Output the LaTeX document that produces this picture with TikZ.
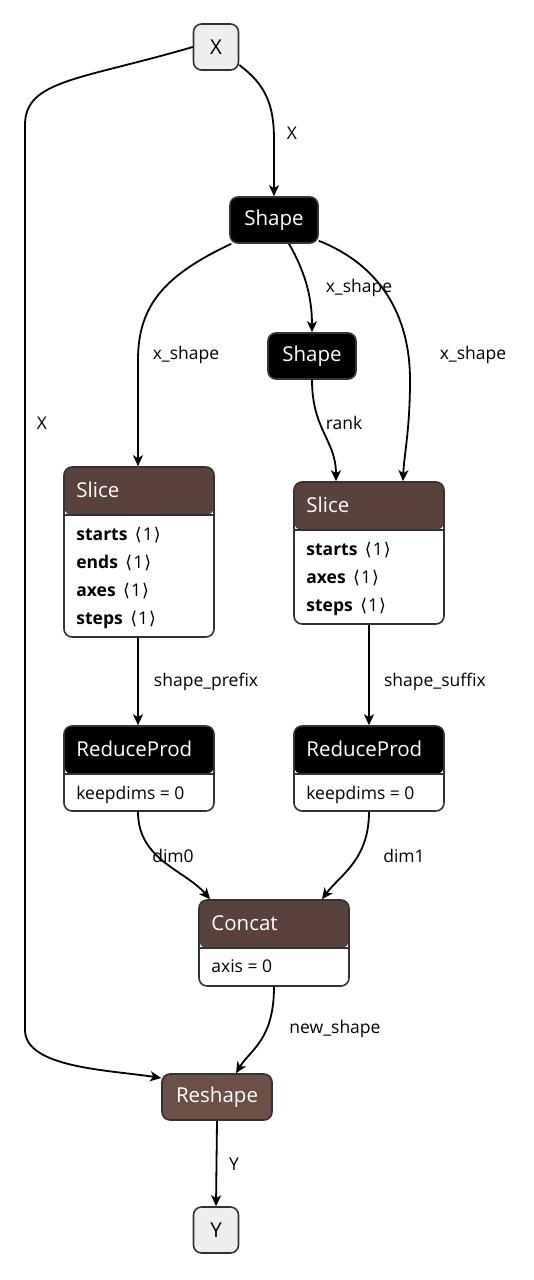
\documentclass[tikz,border=0pt]{standalone}
\usepackage{fontspec}
\setmainfont{Open Sans}
\newfontfamily\bracketfont{DejaVu Sans}
\usetikzlibrary{arrows.meta, calc}
\definecolor{NetronTensor}{HTML}{59423B}
\definecolor{NetronShape}{HTML}{6C4F47}
\definecolor{NetronInput}{HTML}{EEEEEE}
\definecolor{NetronStroke}{HTML}{333333}
\newcommand{\nodetitlefont}{\fontsize{20.5}{24}\selectfont}
\newcommand{\edgelabelfont}{\fontsize{17.5}{20}\selectfont}
\newcommand{\attrfont}{\fontsize{17.5}{20}\selectfont}
\newcommand{\dimval}[1]{\,{\bracketfont ⟨}\kern1pt#1\kern1pt{\bracketfont ⟩}}
\tikzset{
    % Node styles
    graphnode/.style={
        draw=NetronStroke,
        line width=1.6pt,
        rounded corners=8pt,
        inner sep=0pt,
        text=white,
        font=\nodetitlefont
    },
    inputnode/.style={
        graphnode,
        fill=NetronInput,
        text=black,
        minimum width=45pt,
        minimum height=46pt
    },
    shapenode/.style={
        graphnode,
        fill=black,
        minimum width=88pt,
        minimum height=46pt
    },
    opbox/.style={
        draw=NetronStroke,
        line width=1.6pt,
        rounded corners=8pt,
        fill=white,
        minimum width=150pt,
        inner sep=0pt,
        path picture={
            \fill[#1] (path picture bounding box.north west) rectangle ([yshift=-48pt]path picture bounding box.north east);
            \draw[NetronStroke, line width=1.6pt] ([yshift=-48pt]path picture bounding box.north west) -- ([yshift=-48pt]path picture bounding box.north east);
        }
    },
    optitle/.style={
        anchor=west,
        inner sep=0pt,
        text=white,
        font=\nodetitlefont
    },
    attr/.style={
        anchor=base west,
        inner sep=0pt,
        font=\attrfont
    },
    % Edge styles
    edge/.style={
        draw,
        line width=1.8pt,
        -{Stealth[length=11pt, width=10pt, inset=3pt]}
    },
    lbl/.style={
        inner sep=0pt,
        font=\edgelabelfont
    }
}
\begin{document}
\begin{tikzpicture}[x=1pt, y=-1pt]
    \useasboundingbox (0,0) rectangle (534,1280);

    % Inputs and outputs
    \node[inputnode] (xin) at (216,47) {X};
    \node[inputnode] (yout) at (216,1230) {Y};

    % Shape nodes
    \node[shapenode] (shape1) at (274,220) {Shape};
    \node[shapenode] (shape2) at (312,356) {Shape};

    % Slice nodes
    \node[opbox=NetronTensor, minimum height=170pt] (slice1) at (139,552) {};
    \node[optitle] (slice1t) at ($(slice1.north west)+(13,24)$) {Slice};
    \foreach \name [count=\i] in {starts,ends,axes,steps}
        \node[attr] (slice1a\i) at ($(slice1.north west)+(13,46+28*\i)$) {\textbf{\name} \dimval{1}};

    \node[opbox=NetronTensor, minimum height=142pt] (slice2) at (369,553) {};
    \node[optitle] (slice2t) at ($(slice2.north west)+(13,24)$) {Slice};
    \foreach \name [count=\i] in {starts,axes,steps}
        \node[attr] (slice2a\i) at ($(slice2.north west)+(13,46+28*\i)$) {\textbf{\name} \dimval{1}};

    % ReduceProd nodes
    \node[opbox=black, minimum height=85pt] (reduce1) at (139,768.5) {};
    \node[optitle] (reduce1t) at ($(reduce1.north west)+(13,24)$) {ReduceProd};
    \node[attr] (reduce1a) at ($(reduce1.north west)+(13,74)$) {keepdims = 0};

    \node[opbox=black, minimum height=85pt] (reduce2) at (369,768.5) {};
    \node[optitle] (reduce2t) at ($(reduce2.north west)+(13,24)$) {ReduceProd};
    \node[attr] (reduce2a) at ($(reduce2.north west)+(13,74)$) {keepdims = 0};

    % Concat and Reshape
    \node[opbox=NetronTensor, minimum height=86pt] (concat) at (274,943) {};
    \node[optitle] (concatt) at ($(concat.north west)+(13,24)$) {Concat};
    \node[attr] (concata) at ($(concat.north west)+(13,73)$) {axis = 0};

    \node[graphnode, fill=NetronShape, minimum width=110pt, minimum height=46pt] (reshape) at (217,1097) {Reshape};

    % Edges
    \draw[edge] ([yshift=-18pt]xin.east) .. controls (266,85) and (274,105) .. (274,140) -- (shape1.north);
    \draw[edge] (xin.west) .. controls (80,80) and (25,80) .. (25,125) -- (25,1030)
        .. controls (25,1068) and (110,1070) .. ([yshift=19pt]reshape.west);
    \draw[edge] ([xshift=2pt]shape1.south west) .. controls (165,275) and (138,305) .. (138,360) -- ([xshift=-1pt]slice1.north);
    \draw[edge] ([xshift=15pt]shape1.south) .. controls (304,270) and (312,295) .. (shape2.north);
    \draw[edge] ([yshift=3pt]shape1.south east) .. controls (380,265) and (410,315) .. (410,380)
        .. controls (410,430) and (404,455) .. ([xshift=34pt]slice2.north);
    \draw[edge] (shape2.south) .. controls (312,430) and (336,440) .. ([xshift=-33pt]slice2.north);
    \draw[edge] ([xshift=-1pt]slice1.south) -- ([xshift=-1pt]reduce1.north);
    \draw[edge] (slice2.south) -- (reduce2.north);
    \draw[edge] ([xshift=-1pt]reduce1.south) .. controls (138,860) and (185,870) .. ([xshift=-64pt]concat.north);
    \draw[edge] (reduce2.south) .. controls (369,860) and (340,875) .. ([xshift=48pt]concat.north);
    \draw[edge] (concat.south) .. controls (274,1040) and (250,1050) .. ([xshift=19pt]reshape.north);
    \draw[edge] (reshape.south) -- (yout.north);

    % Edge labels
    \node[lbl] (lblx1) at (292,133) {X};
    \node[lbl] (lblx2) at (42,423) {X};
    \node[lbl] (lblxs1) at (186,355) {x\_shape};
    \node[lbl] (lblxs2) at (359,288) {x\_shape};
    \node[lbl] (lblxs3) at (473,355) {x\_shape};
    \node[lbl] (lblrank) at (344,423) {rank};
    \node[lbl] (lblprefix) at (206,682) {shape\_prefix};
    \node[lbl] (lblsuffix) at (435,682) {shape\_suffix};
    \node[lbl] (lbldim0) at (173,856) {dim0};
    \node[lbl] (lbldim1) at (404,856) {dim1};
    \node[lbl] (lblnew) at (335,1029) {new\_shape};
    \node[lbl] (lbly) at (234,1164) {Y};
\end{tikzpicture}
\end{document}
